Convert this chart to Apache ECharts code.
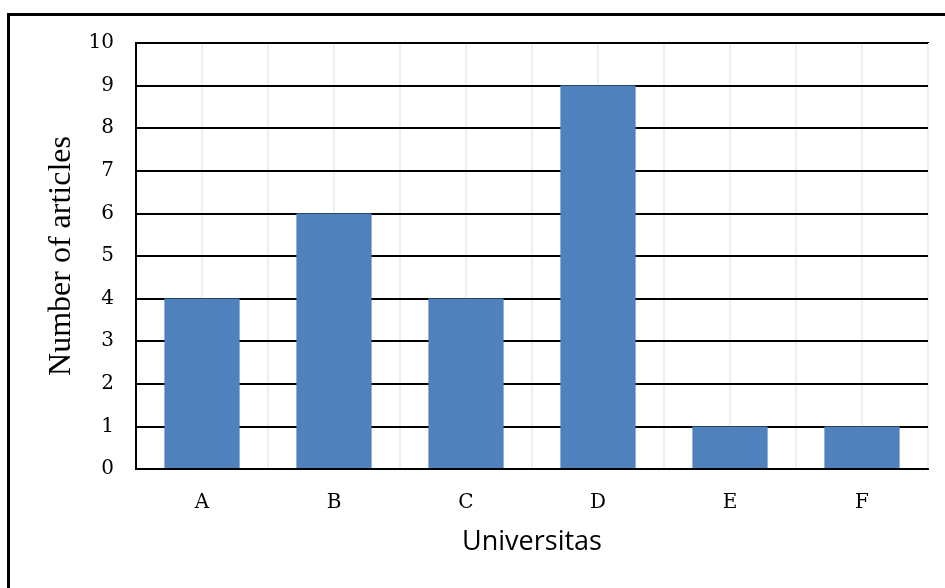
<!DOCTYPE html>
<html>
<head>
<meta charset="utf-8">
<style>
  html, body { margin: 0; padding: 0; background: #fff; }
  #chart { width: 945px; height: 588px; }
</style>
<script src="https://cdn.jsdelivr.net/npm/echarts@6/dist/echarts.min.js"></script>
</head>
<body>
<div id="chart"></div>
<script>
// Articles per university
const categories = ['A', 'B', 'C', 'D', 'E', 'F'];
const articleCounts = [4, 6, 4, 9, 1, 1];
const yTicks = [0, 1, 2, 3, 4, 5, 6, 7, 8, 9, 10];

const serif = '"DejaVu Serif", "Liberation Serif", serif';

const chart = echarts.init(document.getElementById('chart'), null, { renderer: 'canvas' });

chart.setOption({
  backgroundColor: '#ffffff',
  animation: false,
  graphic: [{
    type: 'rect',
    shape: { x: 8.5, y: 14.5, width: 1000, height: 1000 },
    style: { fill: 'none', stroke: '#000', lineWidth: 3 },
    silent: true
  }],
  grid: {
    left: 136, right: 17, top: 43, bottom: 119,
    show: true, borderColor: '#000', borderWidth: 2, backgroundColor: 'transparent'
  },
  xAxis: [{
    type: 'category',
    data: categories,
    axisLine: { show: true, lineStyle: { color: '#000', width: 2 } },
    axisTick: { show: false },
    splitLine: { show: false },
    axisLabel: { fontFamily: serif, fontSize: 20, color: '#000', margin: 24 },
    name: 'Universitas',
    nameLocation: 'middle',
    nameGap: 60,
    nameTextStyle: { fontFamily: '"Open Sans", sans-serif', fontSize: 27, color: '#000' },
    z: 5
  }, {
    // half-category guide lines
    type: 'value',
    min: 0, max: 12, interval: 1,
    position: 'bottom',
    axisLine: { show: false },
    axisTick: { show: false },
    axisLabel: { show: false },
    splitLine: { show: true, lineStyle: { color: '#eaf0f7', width: 2 } },
    z: 0
  }],
  yAxis: {
    type: 'value',
    min: 0, max: 10, interval: 1,
    axisLine: { show: true, lineStyle: { color: '#000', width: 2 } },
    axisTick: { show: false },
    splitLine: { show: true, lineStyle: { color: '#000', width: 2 } },
    axisLabel: {
      fontFamily: serif, fontSize: 20, color: '#000', margin: 22,
      formatter: v => yTicks.includes(v) ? String(v) : ''
    },
    name: 'Number of articles',
    nameLocation: 'middle',
    nameGap: 58,
    nameTextStyle: { fontFamily: '"Liberation Serif", serif', fontSize: 32, color: '#000' },
    z: 3
  },
  series: [{
    type: 'bar',
    xAxisIndex: 0,
    data: articleCounts,
    barWidth: '57%',
    itemStyle: { color: '#4f81bd' },
    z: 4
  }]
});
</script>
</body>
</html>
